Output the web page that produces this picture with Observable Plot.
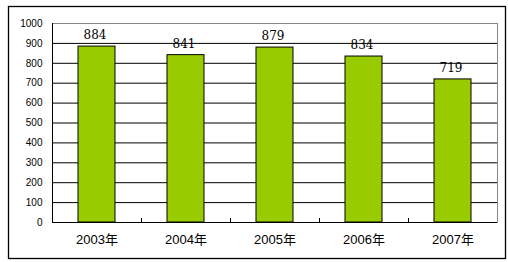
<!DOCTYPE html>
<html><head><meta charset="utf-8">
<script src="https://cdn.jsdelivr.net/npm/d3@7"></script>
<script src="https://cdn.jsdelivr.net/npm/@observablehq/plot@0.6"></script>
<style>body{margin:0;background:#fff;}</style>
</head><body><div id="chart"></div>
<script>
const years = ["2003年", "2004年", "2005年", "2006年", "2007年"];
const values = [884, 841, 879, 834, 719];
const yTicks = [0, 100, 200, 300, 400, 500, 600, 700, 800, 900, 1000];
const gridValues = [100, 200, 300, 400, 500, 600, 700, 800, 900];
const data = years.map((year, i) => ({year, value: values[i]}));

const W = 508, H = 262, ml = 52, mr = 11, mt = 23, mb = 40;
const step = (W - ml - mr) / years.length;

const plot = Plot.plot({
  width: W, height: H,
  marginLeft: ml, marginRight: mr, marginTop: mt, marginBottom: mb,
  style: {fontFamily: "'Liberation Sans', Arial, 'Noto Sans CJK SC', sans-serif", background: "#fff", color: "#000"},
  x: {domain: years, paddingInner: 0.58, paddingOuter: 0.29, label: null},
  y: {domain: [0, 1000], label: null},
  marks: [
    Plot.frame({stroke: "#000", strokeWidth: 1.3, insetLeft: -44, insetTop: -17, insetRight: -8, insetBottom: -36}),
    Plot.frame({stroke: "#888"}),
    Plot.ruleY(gridValues, {stroke: "#000"}),
    Plot.barY(data, {x: "year", y: "value", fill: "#99CC00", stroke: "#000", strokeWidth: 1}),
    Plot.ruleY([0], {stroke: "#000"}),
    Plot.ruleX([years[0]], {dx: -step / 2, stroke: "#000"}),
    Plot.ruleX(years.slice(0, 4), {x: d => d, y1: 0, y2: 0, insetBottom: 4, dx: step / 2, stroke: "#000"}),
    Plot.text(data, {x: "year", y: "value", text: d => String(d.value), dy: -11, dx: -2,
      fontFamily: "'DejaVu Serif', serif", fontSize: 12, fill: "#000"}),
    Plot.axisY({ticks: yTicks, tickSize: 0, tickPadding: 10, fontSize: 10, tickFormat: d => String(d), label: null}),
    Plot.axisX({tickSize: 0, tickPadding: 12, fontSize: 13, label: null})
  ]
});
document.getElementById("chart").appendChild(plot);
</script>
</body></html>
